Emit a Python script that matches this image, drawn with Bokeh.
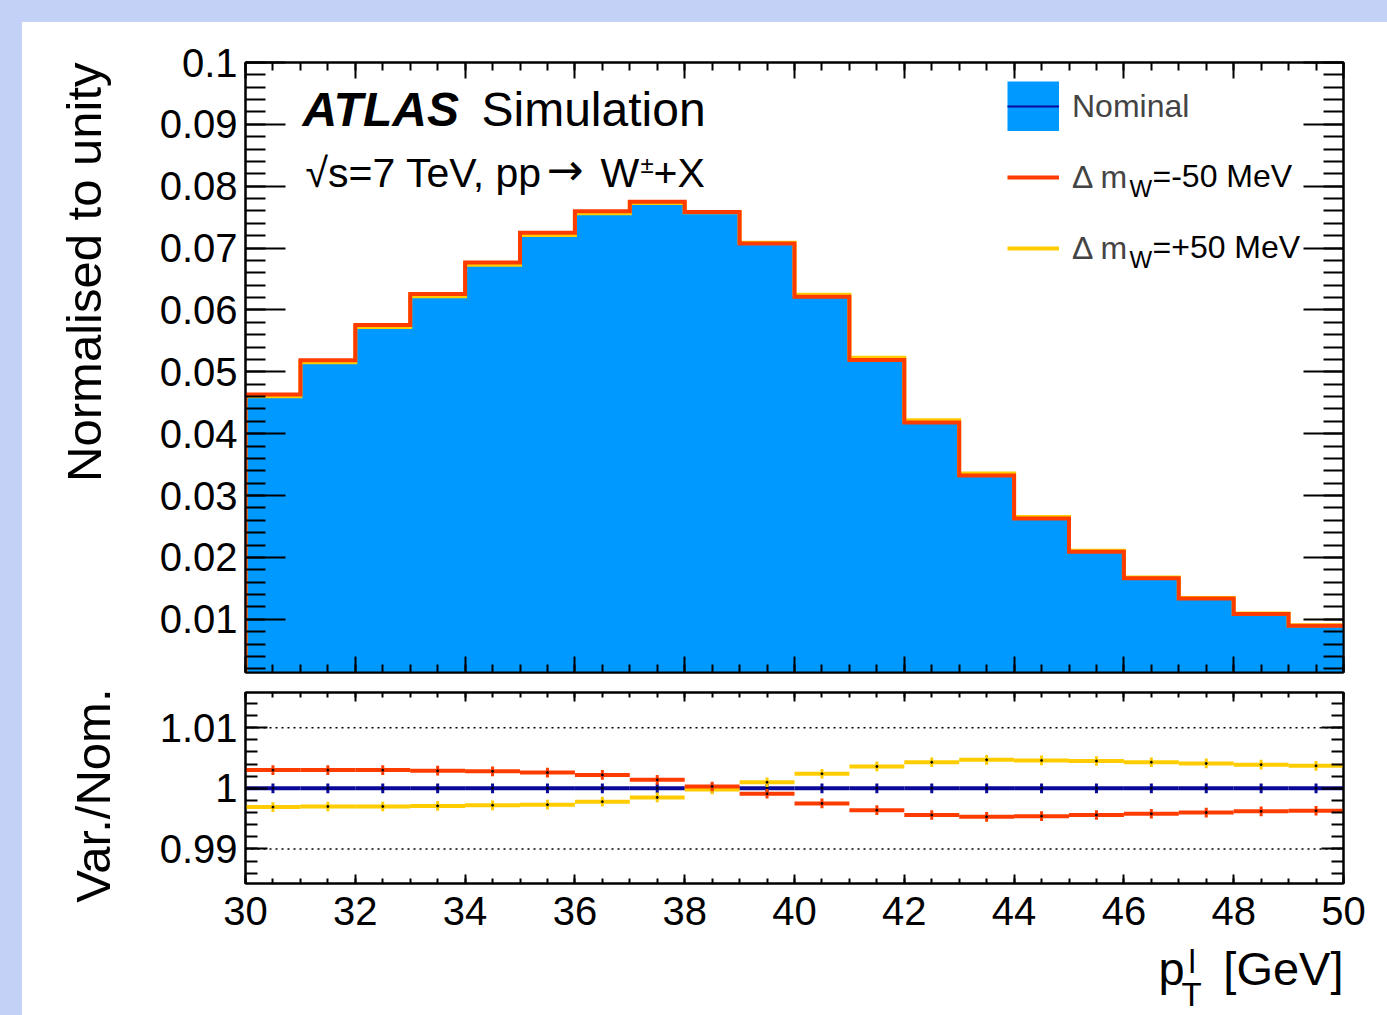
import math
from bokeh.plotting import figure
from bokeh.models import (Range1d, FixedTicker, LinearAxis, Label, Legend, LegendItem,
                          Spacer, PrintfTickFormatter, CustomJSTickFormatter, Span)
from bokeh.layouts import column, row
from bokeh.embed import file_html
from bokeh.resources import INLINE

# ---------------- data ----------------
bin_edges = [30, 31, 32, 33, 34, 35, 36, 37, 38, 39, 40,
             41, 42, 43, 44, 45, 46, 47, 48, 49, 50]
nominal = [0.0462, 0.0517, 0.0574, 0.0624, 0.0675, 0.0723, 0.0758, 0.0774, 0.0758, 0.0708,
           0.0623, 0.0521, 0.0420, 0.0334, 0.0264, 0.0210, 0.0167, 0.0134, 0.0109, 0.0090]
ratio_nominal = [1.0, 1.0, 1.0, 1.0, 1.0, 1.0, 1.0, 1.0, 1.0, 1.0,
                 1.0, 1.0, 1.0, 1.0, 1.0, 1.0, 1.0, 1.0, 1.0, 1.0]
ratio_minus50 = [1.0030, 1.0030, 1.0030, 1.0029, 1.0028, 1.0026, 1.0022, 1.0014, 1.0003, 0.9991,
                 0.9975, 0.9964, 0.9956, 0.9953, 0.9954, 0.9956, 0.9958, 0.9960, 0.9962, 0.9963]
ratio_plus50 = [0.9969, 0.9970, 0.9970, 0.9971, 0.9972, 0.9973, 0.9978, 0.9985, 0.9998, 1.0010,
                1.0024, 1.0036, 1.0043, 1.0047, 1.0046, 1.0045, 1.0043, 1.0041, 1.0039, 1.0037]
err_nominal = [0.0008, 0.0008, 0.0008, 0.0008, 0.0008, 0.0008, 0.0008, 0.0008, 0.0008, 0.0008,
               0.0008, 0.0008, 0.0008, 0.0008, 0.0008, 0.0008, 0.0008, 0.0008, 0.0008, 0.0008]
err_minus50 = [0.0008, 0.0008, 0.0008, 0.0008, 0.0008, 0.0008, 0.0008, 0.0008, 0.0008, 0.0008,
               0.0008, 0.0008, 0.0008, 0.0008, 0.0008, 0.0008, 0.0008, 0.0008, 0.0008, 0.0008]
err_plus50 = [0.0008, 0.0008, 0.0008, 0.0008, 0.0008, 0.0008, 0.0008, 0.0008, 0.0008, 0.0008,
              0.0008, 0.0008, 0.0008, 0.0008, 0.0008, 0.0008, 0.0008, 0.0008, 0.0008, 0.0008]
x_ticks = [30, 32, 34, 36, 38, 40, 42, 44, 46, 48, 50]
y_ticks_top = [0.01, 0.02, 0.03, 0.04, 0.05, 0.06, 0.07, 0.08, 0.09, 0.1]
y_ticks_ratio = [0.99, 1.0, 1.01]
ratio_reference_lines = [0.99, 1.01]

# ---------------- styling ----------------
FONT = "Liberation Sans"
LAV = "#c3d1f6"
BLUE = "#0099ff"
RED = "#ff3c00"
YEL = "#ffcc00"
NAVY = "#0a0a9a"
BASE_SHIFT = 0.38   # empirical correction of the alphabetic baseline (fraction of font size)

x_minor = [30 + 0.5 * i for i in range(41)]
y_minor_top = [0.002 * i for i in range(1, 51)]
y_minor_ratio = [0.984 + 0.002 * i for i in range(17)]

lo = bin_edges[:-1]
hi = bin_edges[1:]
centers = [(a + b) / 2 for a, b in zip(lo, hi)]
var_minus50 = [n * r for n, r in zip(nominal, ratio_minus50)]
var_plus50 = [n * r for n, r in zip(nominal, ratio_plus50)]


def step_path(vals):
    xs, ys = [bin_edges[0]], [0.0]
    for i, v in enumerate(vals):
        xs += [bin_edges[i], bin_edges[i + 1]]
        ys += [v, v]
    return xs, ys


def style_axis(ax, tin, tmin, labels, fmt="%g", standoff=8):
    ax.axis_line_color = "black"
    ax.axis_line_width = 2
    ax.major_tick_line_color = "black"
    ax.major_tick_line_width = 2
    ax.minor_tick_line_color = "black"
    ax.minor_tick_line_width = 2
    ax.major_tick_in = tin
    ax.major_tick_out = 0
    ax.minor_tick_in = tmin
    ax.minor_tick_out = 0
    ax.axis_label = None
    if labels:
        ax.formatter = PrintfTickFormatter(format=fmt)
        ax.major_label_text_font = FONT
        ax.major_label_text_font_size = "40px"
        ax.major_label_text_color = "black"
        ax.major_label_standoff = standoff
    else:
        ax.formatter = CustomJSTickFormatter(code="return ''")
        ax.major_label_standoff = 0


def add_frame_axes(p, yt, ymin, xlen, ylen, xlabels, ylabels):
    for loc in ("below", "above"):
        ax = LinearAxis(ticker=FixedTicker(ticks=x_ticks, minor_ticks=x_minor))
        style_axis(ax, xlen[0], xlen[1], xlabels and loc == "below", fmt="%d", standoff=13)
        p.add_layout(ax, loc)
    for loc in ("left", "right"):
        ax = LinearAxis(ticker=FixedTicker(ticks=yt, minor_ticks=ymin))
        style_axis(ax, ylen[0], ylen[1], ylabels and loc == "left", fmt="%g", standoff=8)
        p.add_layout(ax, loc)


def lab(p, origin, text, cx, cy, size, align="left", style="normal", font=FONT,
        baseline="alphabetic", angle=0.0, shift=True):
    """Place a label at page pixel (cx, cy); origin = page pixel of the frame's bottom-left."""
    fx = cx - origin[0]
    fy = origin[1] - cy + (BASE_SHIFT * size if shift else 0)
    p.add_layout(Label(x=fx, y=fy, x_units="screen", y_units="screen", text=text,
                       text_font=font, text_font_size=f"{size}px", text_font_style=style,
                       text_align=align, text_baseline=baseline, angle=angle,
                       text_color="black"))


def blank_fig(w, h):
    f = figure(width=w, height=h, output_backend="svg", toolbar_location=None,
               x_range=Range1d(0, 1), y_range=Range1d(0, 1),
               x_axis_location=None, y_axis_location=None,
               min_border=0, background_fill_color="white", border_fill_color="white")
    f.outline_line_color = None
    f.xgrid.grid_line_color = None
    f.ygrid.grid_line_color = None
    return f


xr = Range1d(30, 50)

# ---------------- top panel (page x 122..1387, y 22..680) ----------------
top = figure(width=1265, height=658, output_backend="svg", toolbar_location=None,
             x_range=xr, y_range=Range1d(0.0014, 0.1),
             x_axis_location=None, y_axis_location=None,
             min_border_left=123, min_border_right=44, min_border_top=40, min_border_bottom=8,
             background_fill_color="white", border_fill_color="white")
top.outline_line_color = "black"
top.outline_line_width = 2
top.xgrid.grid_line_color = None
top.ygrid.grid_line_color = None
add_frame_axes(top, y_ticks_top, y_minor_top, (16, 8), (40, 20), False, True)

r_fill = top.varea_step(x=bin_edges, y1=[0.0] * len(bin_edges), y2=nominal + [nominal[-1]],
                        step_mode="after", fill_color=BLUE)
nx, ny = step_path(nominal)
# wide blue line used only as the legend swatch of the filled histogram (hidden in the plot)
r_swatch = top.line(nx, ny, line_color=BLUE, line_width=50, line_cap="butt", visible=False)
r_nom = top.line(nx, ny, line_color=NAVY, line_width=2, line_join="miter")
px, py = step_path(var_plus50)
r_yel = top.line(px, py, line_color=YEL, line_width=4, line_join="miter")
mx, my = step_path(var_minus50)
r_red = top.line(mx, my, line_color=RED, line_width=4, line_join="miter")

legend = Legend(items=[LegendItem(label="Nominal", renderers=[r_swatch, r_nom]),
                       LegendItem(label="Δ m", renderers=[r_red]),
                       LegendItem(label="Δ m", renderers=[r_yel])],
                location=(762, 399), padding=0, spacing=21, margin=0,
                glyph_width=52, glyph_height=50, label_standoff=13,
                label_text_font=FONT, label_text_font_size="32px",
                border_line_color=None, background_fill_alpha=0)
top.add_layout(legend)

TO = (245, 672)
lab(top, TO, "W", 1129, 197, 24)
lab(top, TO, "=-50 MeV", 1152, 188, 32)
lab(top, TO, "W", 1129, 268, 24)
lab(top, TO, "=+50 MeV", 1152, 259, 32)

lab(top, TO, "ATLAS", 302, 127, 48, style="bold italic")
lab(top, TO, "Simulation", 481, 127, 48)
lab(top, TO, "√s=7 TeV, pp", 305, 188, 41)
lab(top, TO, "→", 546, 186, 44, font="DejaVu Sans")
lab(top, TO, "W", 600, 188, 41)
lab(top, TO, "±", 640, 173, 24)
lab(top, TO, "+X", 653, 188, 41)

# ---------------- ratio panel (page x 122..1387, y 680..935) ----------------
bot = figure(width=1265, height=255, output_backend="svg", toolbar_location=None,
             x_range=xr, y_range=Range1d(0.9843, 1.0158),
             x_axis_location=None, y_axis_location=None,
             min_border_left=123, min_border_right=44, min_border_top=12, min_border_bottom=52,
             background_fill_color="white", border_fill_color="white")
bot.outline_line_color = "black"
bot.outline_line_width = 2
bot.xgrid.grid_line_color = None
bot.ygrid.grid_line_color = None
add_frame_axes(bot, y_ticks_ratio, y_minor_ratio, (9, 5), (22, 12), True, True)

for yv in ratio_reference_lines:
    bot.add_layout(Span(location=yv, dimension="width", line_color="black",
                        line_width=1.5, line_dash="2 4"))

for vals, errs, col in ((ratio_nominal, err_nominal, NAVY),
                        (ratio_plus50, err_plus50, YEL),
                        (ratio_minus50, err_minus50, RED)):
    bot.segment(x0=lo, x1=hi, y0=vals, y1=vals, line_color=col, line_width=4)
    bot.segment(x0=centers, x1=centers,
                y0=[v - e for v, e in zip(vals, errs)],
                y1=[v + e for v, e in zip(vals, errs)],
                line_color=col, line_width=3)
    bot.scatter(x=centers, y=vals, size=2, color="black")

# ---------------- x-axis title strip (page y 935..1015; frame aligned with panels) ----------------
xt = blank_fig(1265, 80)
XO = (245, 1015)
lab(xt, XO, "[GeV]", 1343, 986, 47, align="right")
lab(xt, XO, "p", 1158, 986, 47)
lab(xt, XO, "l", 1188, 974, 33)
lab(xt, XO, "T", 1181, 1007, 33)

# ---------------- y-axis titles strip (page x 22..122, y 22..1015) ----------------
yt = blank_fig(100, 993)
YO = (22, 1015)
lab(yt, YO, "Normalised to unity", 83, 62, 49, align="right", baseline="middle",
    angle=math.pi / 2, shift=False)
lab(yt, YO, "Var./Nom.", 92, 688, 49, align="right", baseline="middle",
    angle=math.pi / 2, shift=False)

layout = column(
    Spacer(width=1387, height=22, styles={"background-color": LAV}),
    row(Spacer(width=22, height=993, styles={"background-color": LAV}),
        yt,
        column(top, bot, xt, spacing=0, styles={"background-color": "white"}),
        spacing=0, styles={"background-color": "white"}),
    spacing=0, styles={"background-color": LAV})

open("out.html", "w").write(file_html(layout, INLINE, title="pT lepton"))
